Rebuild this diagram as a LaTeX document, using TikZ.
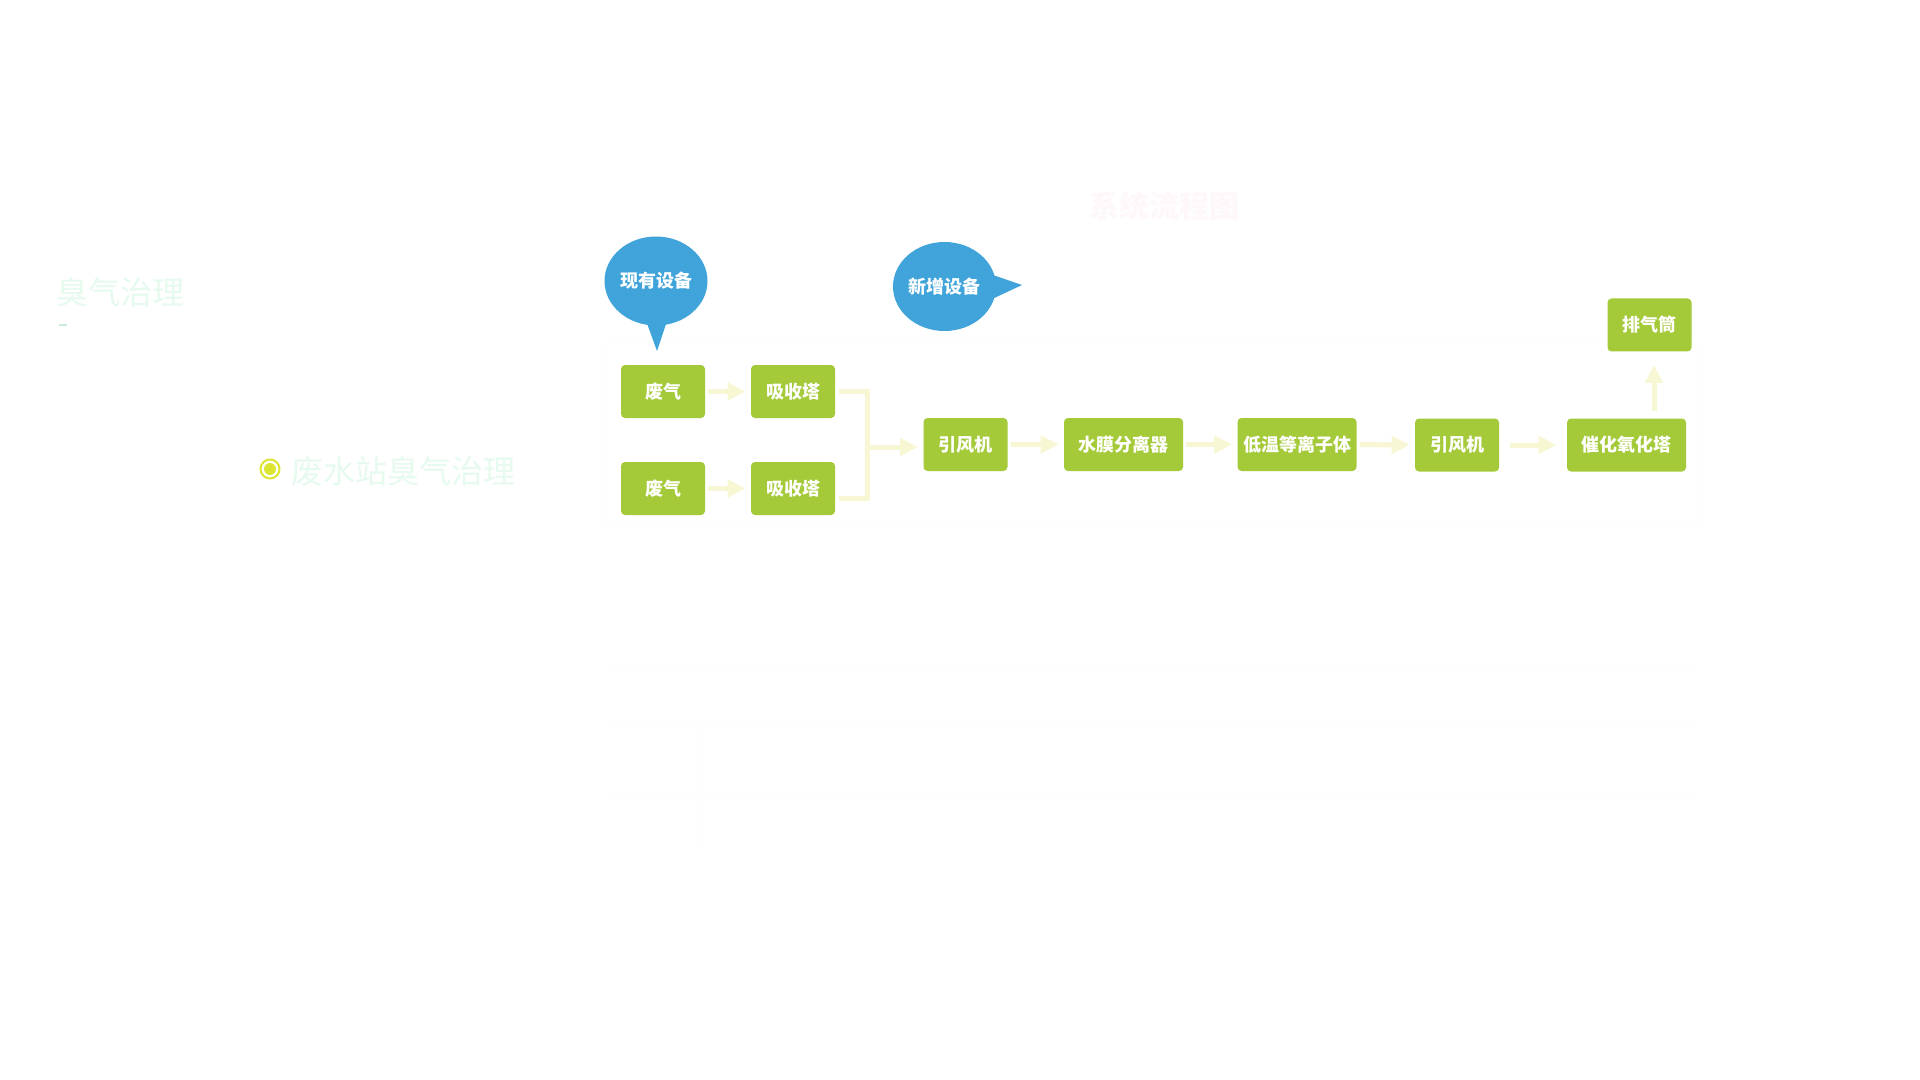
\documentclass[tikz,border=0pt]{standalone}
\usepackage{fontspec}
\setmainfont{Noto Sans CJK SC}
\usetikzlibrary{arrows.meta,calc,shapes.geometric}
\definecolor{boxgreen}{HTML}{A4CA39}
\definecolor{bubblue}{HTML}{40A4DB}
\definecolor{flowyel}{HTML}{F7F7D4}
\definecolor{titlegreen}{HTML}{E6FAEE}
\definecolor{dashgreen}{HTML}{C8EED8}
\definecolor{dotyel}{HTML}{DDE533}
\definecolor{faintpink}{HTML}{FEF8FA}
\definecolor{faintgray}{HTML}{FDFDFD}
\begin{document}
\begin{tikzpicture}[x=0.5pt,y=-0.5pt,
  procbox/.style={fill=boxgreen, rounded corners=2pt, minimum height=26.5pt, minimum width=42pt, inner sep=0pt, text=white, font=\bfseries\fontsize{9}{10}\selectfont},
  widebox/.style={procbox, minimum width=59.5pt},
  bubble/.style={ellipse, fill=bubblue, minimum width=51.5pt, minimum height=44.5pt, inner sep=0pt, text=white, font=\bfseries\fontsize{9}{10}\selectfont},
  flow/.style={draw=flowyel, line width=2.5pt, -{Triangle[length=9pt,width=8.5pt]}, shorten <=1.5pt, shorten >=2.5pt},
  bracketline/.style={draw=flowyel, line width=2.5pt},
  faintline/.style={draw=faintgray, line width=0.5pt}]
\useasboundingbox[fill=white] (0,0) rectangle (1920,1080);

% faint background frames
\draw[faintline] (605,342) rectangle (1700,527);
\draw[faintline] (605,665) -- (1700,665);
\draw[faintline] (605,723) -- (1700,723);
\draw[faintline] (605,797) -- (1700,797);
\draw[faintline] (697,723) -- (697,850);

% titles
\node[anchor=west, inner sep=0pt, text=titlegreen, font=\fontsize{16}{18}\selectfont] (ttl) at (56,292) {臭气治理};
\fill[dashgreen] (59,324) rectangle (67,326);
\node[circle, draw=dotyel, line width=1pt, minimum size=9.5pt, inner sep=0pt] (bul) at (270,469) {};
\fill[dotyel] (bul.center) circle (3pt);
\node[anchor=west, inner sep=0pt, text=titlegreen, font=\fontsize{16}{18}\selectfont] (sub) at (291,471) {废水站臭气治理};
\node[text=faintpink, font=\bfseries\fontsize{15}{17}\selectfont] (sys) at (1164,206) {系统流程图};

% bubbles
\fill[bubblue] (645,318) -- (657,351) -- (668,318) -- cycle;
\node[bubble] (old) at (656,281) {现有设备};
\fill[bubblue] (990,274) -- (1022,285) -- (990,300) -- cycle;
\node[bubble] (new) at (944.5,286.5) {新增设备};

% boxes
\node[procbox] (w1) at (663,391.5) {废气};
\node[procbox] (a1) at (793,391.5) {吸收塔};
\node[procbox] (w2) at (663,488.5) {废气};
\node[procbox] (a2) at (793,488.5) {吸收塔};
\node[procbox] (f1) at (965.5,444.5) {引风机};
\node[widebox] (sep) at (1123.5,444.5) {水膜分离器};
\node[widebox] (low) at (1297,444.5) {低温等离子体};
\node[procbox] (f2) at (1457,445) {引风机};
\node[widebox] (cat) at (1626.5,445) {催化氧化塔};
\node[procbox] (chim) at (1649.5,325) {排气筒};

% connectors
\draw[flow] (w1) -- (a1);
\draw[flow] (w2) -- (a2);
\coordinate (bj) at (867,447);
\draw[bracketline] ($(a1.east)+(4,0)$) -| (bj) |- ($(a2.east)+(4,9.5)$);
\draw[flow, shorten <=0pt] (bj) -- (bj -| f1.west);
\draw[flow] (f1) -- (sep);
\draw[flow] (sep) -- (low);
\draw[flow] (low) -- (f2);
\draw[flow, shorten <=5.5pt, shorten >=5pt] (f2) -- (cat);
\coordinate (up) at (1654,411);
\draw[flow, shorten <=0pt, shorten >=6.5pt] (up) -- (up |- chim.south);
\end{tikzpicture}
\end{document}
